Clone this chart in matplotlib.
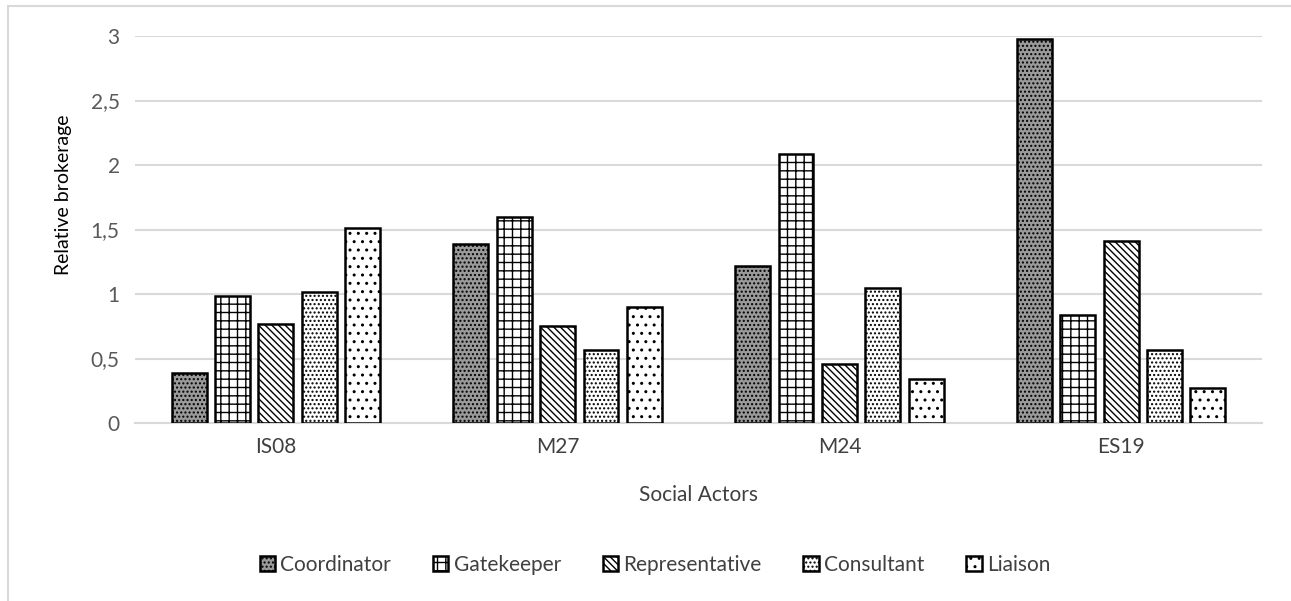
import matplotlib
matplotlib.use("Agg")
import matplotlib.pyplot as plt
import numpy as np
from matplotlib.patches import Rectangle

categories = ["IS08", "M27", "M24", "ES19"]
series = ["Coordinator", "Gatekeeper", "Representative", "Consultant", "Liaison"]
coordinator = [0.39, 1.39, 1.22, 2.98]
gatekeeper = [0.985, 1.60, 2.085, 0.84]
representative = [0.77, 0.75, 0.46, 1.41]
consultant = [1.015, 0.565, 1.05, 0.565]
liaison = [1.51, 0.90, 0.34, 0.27]
yticks = [0, 0.5, 1, 1.5, 2, 2.5, 3]
ytick_labels = ["0", "0,5", "1", "1,5", "2", "2,5", "3"]

values = [coordinator, gatekeeper, representative, consultant, liaison]
hatches = ["....", "++", "\\\\\\\\\\", "....", ".."]
facecolors = ["#9a9a9a", "white", "white", "white", "white"]

plt.rcParams['font.family'] = ['Lato', 'DejaVu Sans']
plt.rcParams['hatch.linewidth'] = 1.0

fig = plt.figure(figsize=(12.91, 6.01), dpi=100)
ax = fig.add_axes([135/1291, 1-423/601, (1262-135)/1291, (423-36)/601])

x = np.arange(len(categories))
w = 0.124
step = 0.154
for i, (name, vals) in enumerate(zip(series, values)):
    ax.bar(x + (i-2)*step, vals, width=w, facecolor=facecolors[i], edgecolor="black",
           linewidth=1.8, hatch=hatches[i], label=name, zorder=3)

fs = 15
ax.set_xlim(-0.5, 3.5)
ax.set_ylim(0, 3)
ax.set_yticks(yticks)
ax.set_yticklabels(ytick_labels)
ax.set_xticks(x)
ax.set_xticklabels(categories)
ax.grid(axis="y", color="#d9d9d9", linewidth=1.5, zorder=0)
for s in ["top", "right", "left"]:
    ax.spines[s].set_visible(False)
ax.spines["bottom"].set_color("#d9d9d9")
ax.spines["bottom"].set_linewidth(1.5)
ax.tick_params(axis="both", length=0, labelsize=fs, colors="#595959")
ax.tick_params(axis="y", pad=11)
ax.tick_params(axis="x", pad=10, labelcolor="#404040")
ax.set_xlabel("Social Actors", fontsize=fs, color="#404040", labelpad=20)
ax.set_ylabel("Relative brokerage", fontsize=14, color="black")
ax.yaxis.set_label_coords((72-135)/1127, (423-195)/387)

leg = fig.legend(loc="center", bbox_to_anchor=(655/1291, 1-565/601), ncol=5, frameon=False,
                 fontsize=fs, handlelength=0.75, handleheight=0.75, handletextpad=0.25,
                 columnspacing=2.0)
for t in leg.get_texts():
    t.set_color("#404040")

fig.patches.append(Rectangle((8/1291, -0.01), 1.1, 1-6/601+0.01, transform=fig.transFigure,
                             fill=False, edgecolor="#d9d9d9", linewidth=1.5))

fig.savefig("out.png", dpi=100)
